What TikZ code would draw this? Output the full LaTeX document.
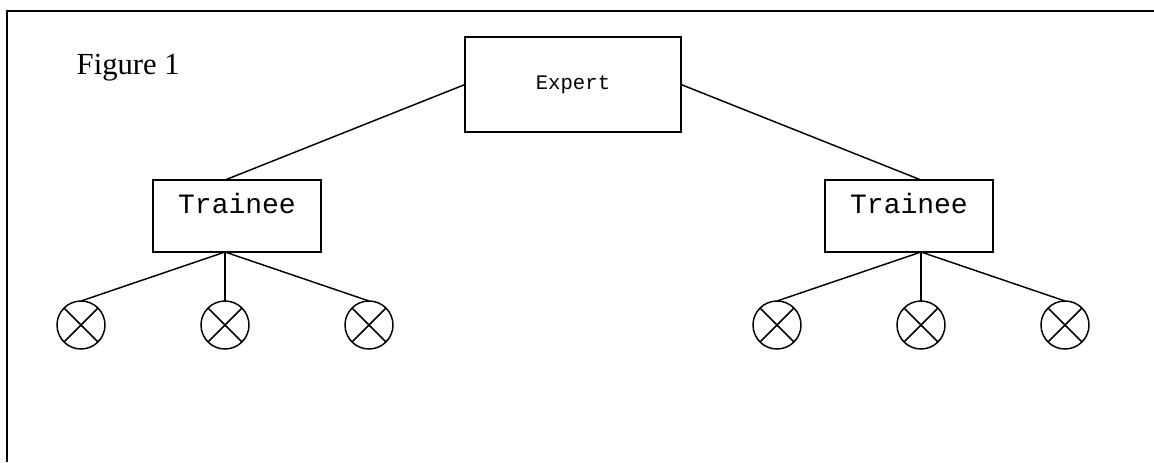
\documentclass[tikz,border=0pt]{standalone}
\usepackage{fontspec}
\setmainfont{Liberation Serif}
\setmonofont{Liberation Mono}
\usepackage{tikz}
\usetikzlibrary{positioning}
\tikzstyle{bx}=[%
      rectangle, draw=black, line width=1.1pt, fill=none,
      inner sep=0pt, outer sep=0pt, font=\ttfamily
]
\tikzstyle{lf}=[%
      circle, draw=black, line width=1.1pt, fill=none,
      minimum size=36pt, inner sep=0pt, outer sep=0pt,
      path picture={\draw[line width=1.1pt]
        (path picture bounding box.south west) -- (path picture bounding box.north east)
        (path picture bounding box.north west) -- (path picture bounding box.south east);}
]
\tikzstyle{tn}=[%
      bx, minimum width=126pt, minimum height=54pt,
      text height=12pt, text depth=16.5pt, font=\ttfamily\fontsize{21}{25}\selectfont
]

\begin{document}
\begin{tikzpicture}[x=0.75pt, y=-0.75pt, line width=1.1pt]
    \useasboundingbox (0,0) rectangle (1154,462);
    \draw[line width=1.5pt] (7,462) -- (7,11) -- (1154,11);

    \node[anchor=base west, inner sep=0pt, font=\fontsize{23}{27}\selectfont] (fig) at (76,74) {Figure 1};

    \node[bx, minimum width=162pt, minimum height=71.25pt,
          font=\ttfamily\fontsize{15.5}{18}\selectfont] (ex) at (573,84.5) {Expert};
    \node[tn]  (tl)  [below left = 36pt and 108pt of ex]  {Trainee};
    \node[tn]  (tr)  [below right = 36pt and 108pt of ex] {Trainee};

    \node[lf]  (l2)  [below = 36.75pt of tl, xshift=-9pt] {};
    \node[lf]  (l1)  [left = 72pt of l2]                  {};
    \node[lf]  (l3)  [right = 72pt of l2]                 {};
    \node[lf]  (r2)  [below = 36.75pt of tr, xshift=9pt]  {};
    \node[lf]  (r1)  [left = 72pt of r2]                  {};
    \node[lf]  (r3)  [right = 72pt of r2]                 {};

    \path (ex.west) edge (tl.north -| l2)
          (ex.east) edge (tr.north -| r2)
          (tl.south -| l2) edge (l1.north)
          (tl.south -| l2) edge (l2.north)
          (tl.south -| l2) edge (l3.north)
          (tr.south -| r2) edge (r1.north)
          (tr.south -| r2) edge (r2.north)
          (tr.south -| r2) edge (r3.north)
    ;
\end{tikzpicture}
\end{document}
